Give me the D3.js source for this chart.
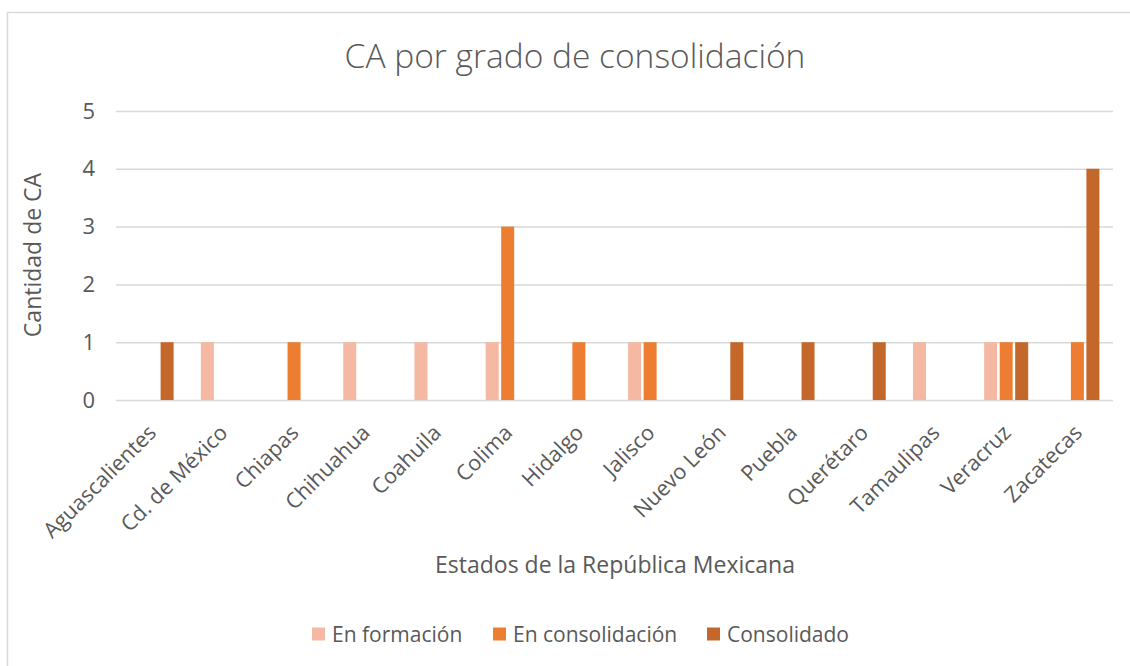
<!DOCTYPE html>
<html>
<head>
<meta charset="utf-8">
<script src="https://cdn.jsdelivr.net/npm/d3@7"></script>
<style>
  html, body { margin: 0; padding: 0; background: #fff; }
  svg { display: block; font-family: "Open Sans", "Noto Sans", sans-serif; }
</style>
</head>
<body>
<svg id="chart" width="1130" height="666"></svg>
<script>
const categories = ["Aguascalientes", "Cd. de México", "Chiapas", "Chihuahua", "Coahuila", "Colima", "Hidalgo", "Jalisco", "Nuevo León", "Puebla", "Querétaro", "Tamaulipas", "Veracruz", "Zacatecas"];
const seriesNames = ["En formación", "En consolidación", "Consolidado"];
const enFormacion     = [0, 1, 0, 1, 1, 1, 0, 1, 0, 0, 0, 1, 1, 0];
const enConsolidacion = [0, 0, 1, 0, 0, 3, 1, 1, 0, 0, 0, 0, 1, 1];
const consolidado     = [1, 0, 0, 0, 0, 0, 0, 0, 1, 1, 1, 0, 1, 4];
const seriesColors = ["#F4B8A3", "#ED7D31", "#C4672A"];
const yTicks = [0, 1, 2, 3, 4, 5];
const title = "CA por grado de consolidación";
const yTitle = "Cantidad de CA";
const xTitle = "Estados de la República Mexicana";

const seriesValues = [enFormacion, enConsolidacion, consolidado];
const data = categories.map((c, i) => ({
  cat: c,
  vals: seriesNames.map((s, j) => ({ series: s, value: seriesValues[j][i], color: seriesColors[j] }))
}));

const svg = d3.select("#chart");
const textColor = "#595959";

// outer border
svg.append("rect").attr("x", 7.5).attr("y", 12.5).attr("width", 1130).attr("height", 700)
  .attr("fill", "#fff").attr("stroke", "#D9D9D9").attr("stroke-width", 1.5);

const plot = { left: 116, right: 1113, top: 111, bottom: 400 };

const x0 = d3.scaleBand().domain(categories).range([plot.left, plot.right]).paddingInner(0).paddingOuter(0);
const x1 = d3.scaleBand().domain(seriesNames).range([-22, 22]).paddingInner(0.161).paddingOuter(0);
const y = d3.scaleLinear().domain([0, 5]).range([plot.bottom, plot.top]);

// gridlines
const yAxis = d3.axisLeft(y).tickValues(yTicks).tickSize(-(plot.right - plot.left)).tickPadding(21).tickFormat(d3.format("d"));
const gy = svg.append("g").attr("transform", `translate(${plot.left},0)`).call(yAxis);
gy.select(".domain").remove();
gy.selectAll(".tick line").attr("stroke", "#D9D9D9").attr("stroke-width", 1.5);
gy.selectAll(".tick text").attr("fill", textColor).attr("font-size", 22).attr("font-family", '"Open Sans", sans-serif');

// bars
const groups = svg.append("g").selectAll("g").data(data).join("g")
  .attr("transform", d => `translate(${x0(d.cat) + x0.bandwidth() / 2},0)`);
groups.selectAll("rect").data(d => d.vals.filter(v => v.value > 0)).join("rect")
  .attr("x", d => x1(d.series))
  .attr("width", x1.bandwidth())
  .attr("y", d => y(d.value))
  .attr("height", d => y(0) - y(d.value))
  .attr("fill", d => d.color);

// x axis labels
const xAxis = d3.axisBottom(x0).tickSize(0).tickPadding(0);
const gx = svg.append("g").attr("transform", `translate(0,${plot.bottom})`).call(xAxis);
gx.select(".domain").remove();
gx.selectAll(".tick text")
  .attr("fill", textColor).attr("font-size", 21.5).attr("font-family", '"Open Sans", sans-serif')
  .attr("text-anchor", "end").attr("dy", null).attr("y", 0)
  .attr("transform", "translate(6,34) rotate(-45)");

// title
svg.append("text").attr("x", 575).attr("y", 68).attr("text-anchor", "middle")
  .attr("fill", textColor).attr("font-size", 33.5).attr("font-weight", 300).text(title);

// y title
svg.append("text").attr("transform", "translate(41,255) rotate(-90)").attr("text-anchor", "middle")
  .attr("fill", textColor).attr("font-size", 23).text(yTitle);

// x title
svg.append("text").attr("x", 615).attr("y", 573).attr("text-anchor", "middle")
  .attr("fill", textColor).attr("font-size", 23).text(xTitle);

// legend
const legendX = [312, 493, 707];
const lg = svg.append("g").selectAll("g").data(seriesNames).join("g")
  .attr("transform", (d, i) => `translate(${legendX[i]},634)`);
lg.append("rect").attr("x", 0).attr("y", -6.5).attr("width", 13).attr("height", 13)
  .attr("fill", (d, i) => seriesColors[i]);
lg.append("text").attr("x", 20).attr("y", 7.5).attr("fill", textColor).attr("font-size", 21).text(d => d);
</script>
</body>
</html>
